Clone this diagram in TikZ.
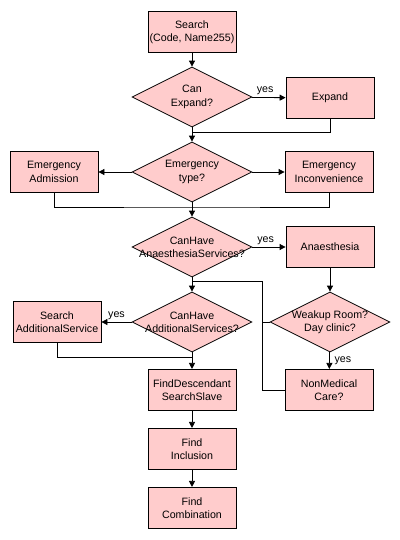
\documentclass[tikz,border=0pt]{standalone}
\usepackage{fontspec}
\setmainfont{Liberation Sans}
\usetikzlibrary{shapes.geometric, arrows.meta}
\definecolor{boxpink}{RGB}{255,204,204}

\begin{document}
\begin{tikzpicture}[x=0.75pt, y=-0.75pt, line width=0.6pt,
    every node/.style={font=\fontsize{8pt}{10pt}\selectfont},
    process/.style={rectangle, draw, fill=boxpink, minimum width=66pt, minimum height=31pt, inner sep=0pt, align=center},
    decision/.style={diamond, draw, fill=boxpink, minimum width=90pt, minimum height=45pt, inner sep=0pt},
    answer/.style={inner sep=1.5pt},
    flow/.style={-{Triangle[length=4.5pt, width=4.5pt]}}]

    % Page frame
    \useasboundingbox (0,0) rectangle (400,540);

    % Search and expand
    \node[process] (search) at (192,32) {Search\\(Code, Name255)};
    \node[decision, label={[align=center]center:Can\\Expand?}] (canexp) at (192,97) {};
    \node[process] (expand) at (330,98) {Expand};

    % Emergency branch
    \node[decision, label={[align=center]center:Emergency\\type?}] (etype) at (192,172) {};
    \node[process] (emadm) at (54,172) {Emergency\\Admission};
    \node[process] (emincon) at (329,172) {Emergency\\Inconvenience};

    % Anaesthesia branch
    \node[decision, label={[align=center]center:CanHave\\AnaesthesiaServices?}] (anaesq) at (192,247) {};
    \node[process] (anaes) at (330,247) {Anaesthesia};
    \node[decision, label={[align=center]center:Weakup Room?\\Day clinic?}] (wakeup) at (330,322) {};
    \node[process] (nonmed) at (329,390) {NonMedical\\Care?};

    % Additional services and the finds
    \node[decision, label={[align=center]center:CanHave\\AdditionalServices?}] (addq) at (192,322) {};
    \node[process] (searchadd) at (57,322) {Search\\AdditionalService};
    \node[process] (finddesc) at (192,390) {FindDescendant\\SearchSlave};
    \node[process] (findincl) at (192,449) {Find\\Inclusion};
    \node[process] (findcomb) at (192,508) {Find\\Combination};

    % Junctions of the merging lines
    \coordinate (jexp) at (192,132);
    \coordinate (jem) at (192,207);
    \coordinate (jcare) at (192,281);
    \coordinate (jcorner) at (262,281);
    \coordinate (jadd) at (192,357);

    % Connectors
    \draw[flow] (search) -- (canexp);
    \draw[flow] (canexp) -- node[answer, above, pos=0.4] {yes} (expand);
    \draw (expand.south) |- (jexp);
    \draw[flow] (canexp) -- (etype);

    \draw[flow] (etype) -- (emadm);
    \draw[flow] (etype) -- (emincon);
    \draw (emadm.south) |- (jem) -| (emincon.south);
    \draw[flow] (etype) -- (anaesq);

    \draw[flow] (anaesq) -- node[answer, above, pos=0.4] {yes} (anaes);
    \draw[flow] (anaes) -- (wakeup);
    \draw[flow] (wakeup) -- node[answer, right, xshift=2pt] {yes} (nonmed);
    \draw (wakeup.west) -- (wakeup.west -| jcorner);
    \draw (nonmed.west) -| (jcorner) -- (jcare);

    \draw[flow] (anaesq) -- (addq);
    \draw[flow] (addq) -- node[answer, above] {yes} (searchadd);
    \draw (searchadd.south) |- (jadd);
    \draw[flow] (addq) -- (finddesc);
    \draw[flow] (finddesc) -- (findincl);
    \draw[flow] (findincl) -- (findcomb);

\end{tikzpicture}
\end{document}
